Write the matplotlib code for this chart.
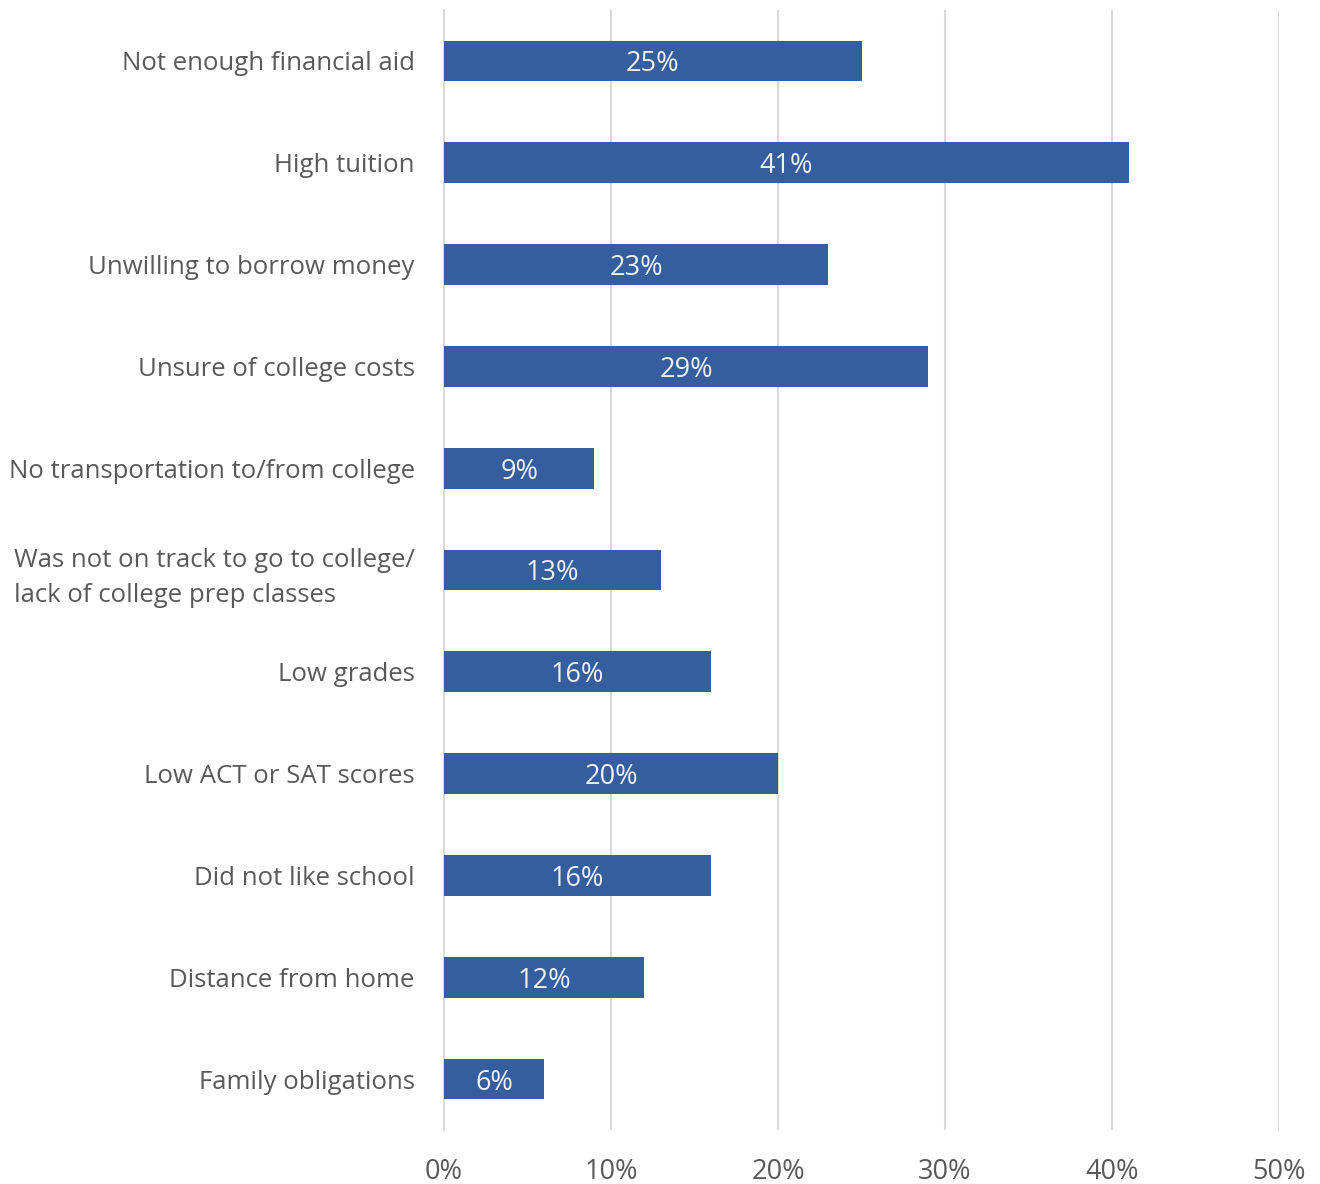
import matplotlib.pyplot as plt
import numpy as np

reasons = [
    "Not enough financial aid",
    "High tuition",
    "Unwilling to borrow money",
    "Unsure of college costs",
    "No transportation to/from college",
    "Was not on track to go to college/\nlack of college prep classes",
    "Low grades",
    "Low ACT or SAT scores",
    "Did not like school",
    "Distance from home",
    "Family obligations",
]
percent = [25, 41, 23, 29, 9, 13, 16, 20, 16, 12, 6]
ticks = [0, 10, 20, 30, 40, 50]

plt.rcParams['font.family'] = ['Open Sans', 'DejaVu Sans']
text_color = '#595959'
bar_color = '#355e9f'
grid_color = '#d9d9d9'

fig = plt.figure(figsize=(13.2, 11.84), dpi=100)
ax = fig.add_axes([444 / 1320, 1 - 1130 / 1184, (1279 - 444) / 1320, (1130 - 10) / 1184])

y = np.arange(len(reasons))
bars = ax.barh(y, percent, height=0.4, color=bar_color, zorder=3)

for rect, v in zip(bars, percent):
    ax.text(rect.get_width() / 2, rect.get_y() + rect.get_height() / 2, f"{v}%",
            ha='center', va='center_baseline', color='#f2f2f2', fontsize=19.5, zorder=4)

ax.set_xlim(0, 50)
ax.set_ylim(len(reasons) - 0.5, -0.5)
ax.set_xticks(ticks)
ax.set_xticklabels([f"{t}%" for t in ticks])
ax.set_yticks(y)
ax.set_yticklabels(reasons)

ax.grid(axis='x', color=grid_color, linewidth=1.5, zorder=0)
for s in ['top', 'right', 'bottom']:
    ax.spines[s].set_visible(False)
ax.spines['left'].set_color(grid_color)
ax.spines['left'].set_linewidth(1.5)

ax.tick_params(axis='x', length=0, pad=20, labelsize=19.5, labelcolor=text_color)
ax.tick_params(axis='y', length=0, pad=21, labelsize=18.5, labelcolor=text_color)

# the two-line label reads flush left
for lab in ax.get_yticklabels():
    if "\n" in lab.get_text():
        lab.set_multialignment('left')
        lab.set_linespacing(1.55)

plt.savefig('out.png', dpi=100)
